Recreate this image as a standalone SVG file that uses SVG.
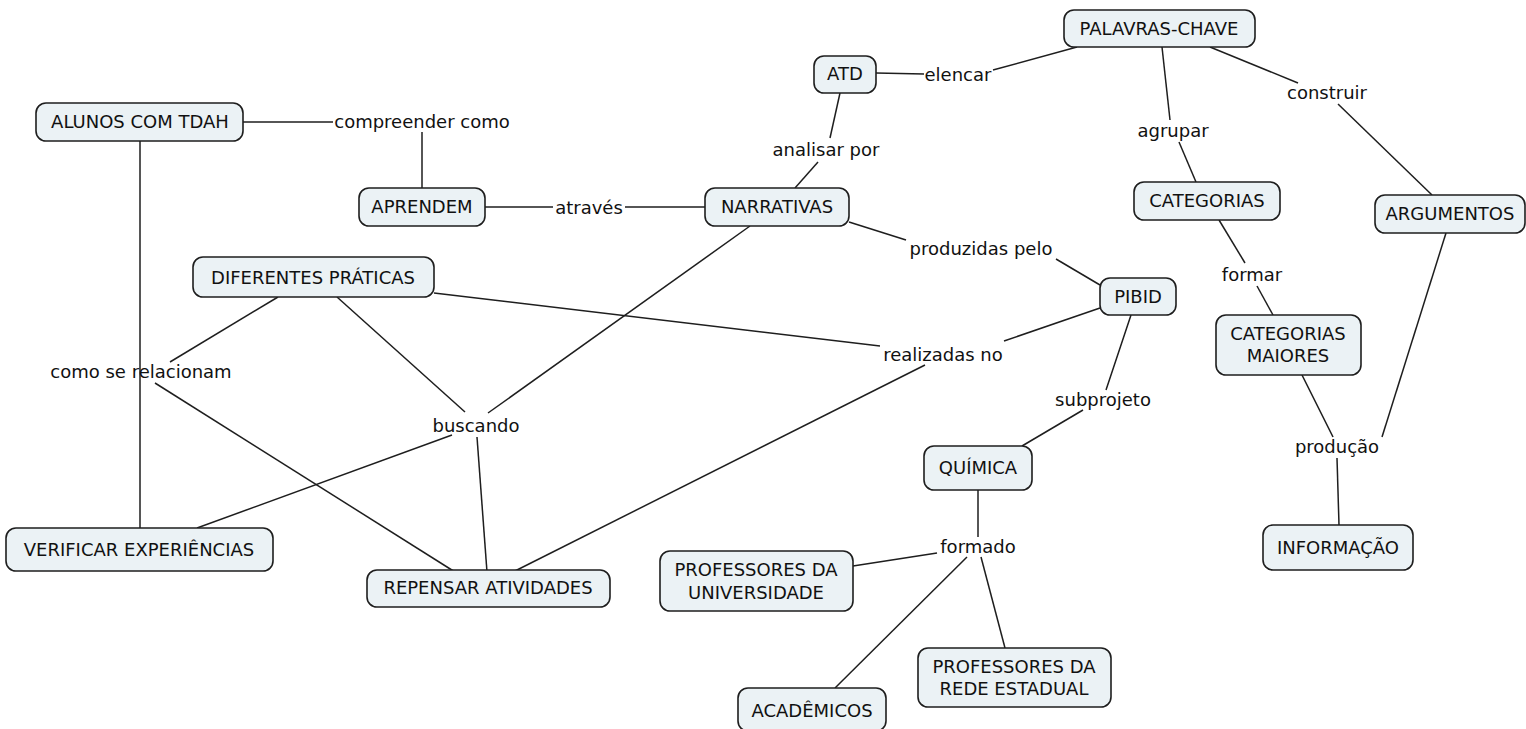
<svg xmlns="http://www.w3.org/2000/svg" width="1526" height="729" viewBox="0 0 1526 729">
<style>
.n rect{fill:#ebf2f5;stroke:#1e1e1e;stroke-width:1.6}
text{font-family:"DejaVu Sans","Liberation Sans",sans-serif;font-size:18px;fill:#111;text-anchor:middle;dominant-baseline:central}
#links line{stroke:#1e1e1e;stroke-width:1.5}
</style>
<rect width="1526" height="729" fill="#fff"/>
<g id="links">
<line x1="243" y1="122" x2="333" y2="122"/>
<line x1="422" y1="132" x2="422" y2="188"/>
<line x1="140" y1="141" x2="140" y2="528"/>
<line x1="485" y1="207" x2="553" y2="207"/>
<line x1="625" y1="207" x2="705" y2="207"/>
<line x1="876" y1="73" x2="924" y2="74"/>
<line x1="993" y1="70" x2="1077" y2="47"/>
<line x1="840" y1="93" x2="830" y2="138"/>
<line x1="818" y1="162" x2="795" y2="188"/>
<line x1="1162" y1="47" x2="1170" y2="120"/>
<line x1="1179" y1="142" x2="1196" y2="182"/>
<line x1="1210" y1="47" x2="1298" y2="83"/>
<line x1="1338" y1="104" x2="1432" y2="195"/>
<line x1="1219" y1="220" x2="1245" y2="263"/>
<line x1="1257" y1="286" x2="1273" y2="315"/>
<line x1="1302" y1="375" x2="1333" y2="437"/>
<line x1="1382" y1="437" x2="1446" y2="233"/>
<line x1="1337" y1="458" x2="1339" y2="525"/>
<line x1="849" y1="222" x2="906" y2="240"/>
<line x1="1056" y1="259" x2="1100" y2="285"/>
<line x1="434" y1="293" x2="880" y2="346"/>
<line x1="1100" y1="308" x2="1004" y2="341"/>
<line x1="925" y1="365" x2="513" y2="572"/>
<line x1="1131" y1="315" x2="1106" y2="390"/>
<line x1="1083" y1="410" x2="1022" y2="446"/>
<line x1="978" y1="490" x2="978" y2="537"/>
<line x1="937" y1="553" x2="853" y2="566"/>
<line x1="967" y1="557" x2="835" y2="688"/>
<line x1="981" y1="557" x2="1005" y2="648"/>
<line x1="278" y1="297" x2="170" y2="362"/>
<line x1="155" y1="383" x2="455" y2="572"/>
<line x1="337" y1="297" x2="465" y2="412"/>
<line x1="750" y1="226" x2="488" y2="413"/>
<line x1="452" y1="435" x2="197" y2="528"/>
<line x1="477" y1="437" x2="487" y2="572"/>
</g>
<g id="labels">
<text x="422" y="121">compreender como</text>
<text x="589" y="207">através</text>
<text x="958" y="74">elencar</text>
<text x="826" y="149">analisar por</text>
<text x="1173" y="130">agrupar</text>
<text x="1327" y="92">construir</text>
<text x="1252" y="274">formar</text>
<text x="1337" y="446">produção</text>
<text x="981" y="248">produzidas pelo</text>
<text x="943" y="354">realizadas no</text>
<text x="1103" y="399">subprojeto</text>
<text x="978" y="546">formado</text>
<text x="141" y="371">como se relacionam</text>
<text x="476" y="425">buscando</text>
</g>
<g id="n1" class="n"><rect x="36" y="103" width="207" height="38" rx="10"/><text x="140" y="121">ALUNOS COM TDAH</text></g>
<g id="n2" class="n"><rect x="359" y="188" width="126" height="38" rx="10"/><text x="422" y="206">APRENDEM</text></g>
<g id="n3" class="n"><rect x="705" y="188" width="144" height="38" rx="10"/><text x="777" y="206">NARRATIVAS</text></g>
<g id="n4" class="n"><rect x="814" y="56" width="62" height="37" rx="10"/><text x="845" y="73">ATD</text></g>
<g id="n5" class="n"><rect x="1064" y="10" width="191" height="37" rx="10"/><text x="1159" y="28">PALAVRAS-CHAVE</text></g>
<g id="n6" class="n"><rect x="1134" y="182" width="146" height="38" rx="10"/><text x="1207" y="200">CATEGORIAS</text></g>
<g id="n7" class="n"><rect x="1375" y="195" width="150" height="38" rx="10"/><text x="1450" y="213">ARGUMENTOS</text></g>
<g id="n8" class="n"><rect x="1216" y="315" width="145" height="60" rx="10"/><text x="1288" y="333">CATEGORIAS</text><text x="1288" y="355">MAIORES</text></g>
<g id="n9" class="n"><rect x="1263" y="525" width="150" height="45" rx="10"/><text x="1338" y="547">INFORMAÇÃO</text></g>
<g id="n10" class="n"><rect x="1100" y="278" width="76" height="37" rx="10"/><text x="1138" y="296">PIBID</text></g>
<g id="n11" class="n"><rect x="924" y="446" width="108" height="44" rx="10"/><text x="978" y="467">QUÍMICA</text></g>
<g id="n12" class="n"><rect x="660" y="551" width="193" height="60" rx="10"/><text x="756" y="569">PROFESSORES DA</text><text x="756" y="592">UNIVERSIDADE</text></g>
<g id="n13" class="n"><rect x="918" y="648" width="193" height="59" rx="10"/><text x="1014" y="666">PROFESSORES DA</text><text x="1014" y="688">REDE ESTADUAL</text></g>
<g id="n14" class="n"><rect x="738" y="688" width="148" height="43" rx="10"/><text x="812" y="710">ACADÊMICOS</text></g>
<g id="n15" class="n"><rect x="193" y="257" width="241" height="40" rx="10"/><text x="313" y="277">DIFERENTES PRÁTICAS</text></g>
<g id="n16" class="n"><rect x="6" y="528" width="267" height="43" rx="10"/><text x="139" y="549">VERIFICAR EXPERIÊNCIAS</text></g>
<g id="n17" class="n"><rect x="367" y="570" width="243" height="37" rx="10"/><text x="488" y="587">REPENSAR ATIVIDADES</text></g>
</svg>
